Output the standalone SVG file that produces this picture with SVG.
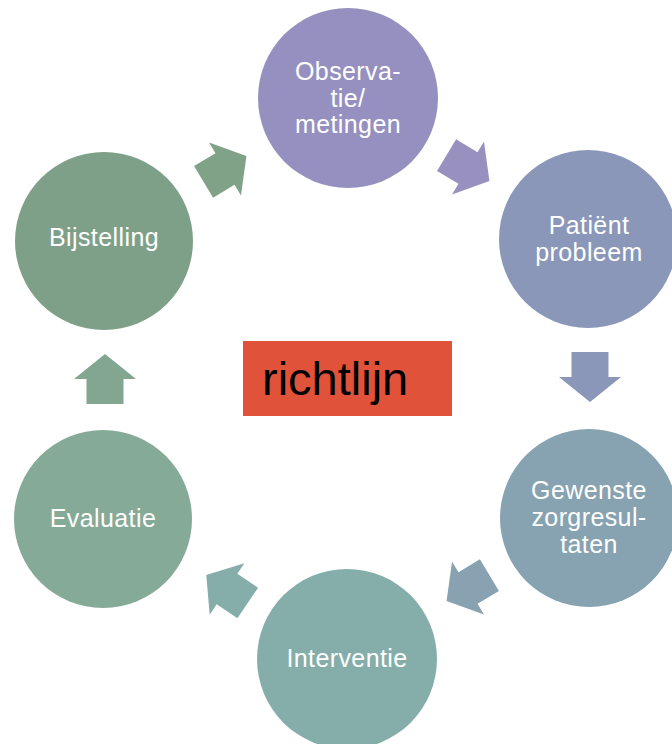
<svg xmlns="http://www.w3.org/2000/svg" xmlns:xlink="http://www.w3.org/1999/xlink" width="672" height="744" viewBox="0 0 672 744">
<style>
.lbl{font-family:"Liberation Sans",Arial,sans-serif;font-size:25px;letter-spacing:0.4px;fill:#ffffff;text-anchor:middle}
.main{font-family:"Liberation Sans",Arial,sans-serif;font-size:47px;fill:#000000}
</style>
<defs>
<polygon id="arr" points="25,0 0,-31 0,-18.5 -25,-18.5 -25,18.5 0,18.5 0,31"/>
</defs>
<rect width="672" height="744" fill="#ffffff"/>
<g id="connectors">
<use xlink:href="#arr" fill="#80A388" transform="translate(225,169) rotate(-31)"/>
<use xlink:href="#arr" fill="#9891C0" transform="translate(468,168) rotate(31)"/>
<use xlink:href="#arr" fill="#8A97B8" transform="translate(590,377) rotate(90)"/>
<use xlink:href="#arr" fill="#88A2B1" transform="translate(468,588) rotate(149)"/>
<use xlink:href="#arr" fill="#85AEAB" transform="translate(227,589) rotate(214)"/>
<use xlink:href="#arr" fill="#82A690" transform="translate(105,379) rotate(-90)"/>
</g>
<g id="observatie">
<circle cx="348" cy="98" r="90" fill="#9590BF"/>
<text class="lbl" x="348" y="80">Observa-</text>
<text class="lbl" x="348" y="107">tie/</text>
<text class="lbl" x="348" y="133">metingen</text>
</g>
<g id="patient">
<circle cx="588" cy="239" r="89" fill="#8A97B8"/>
<text class="lbl" x="589" y="234">Patiënt</text>
<text class="lbl" x="589" y="261">probleem</text>
</g>
<g id="gewenste">
<circle cx="589" cy="518" r="89" fill="#87A2B1"/>
<text class="lbl" x="589" y="499">Gewenste</text>
<text class="lbl" x="589" y="526">zorgresul-</text>
<text class="lbl" x="589" y="553">taten</text>
</g>
<g id="interventie">
<circle cx="347" cy="659" r="90" fill="#85AEAB"/>
<text class="lbl" x="347" y="667">Interventie</text>
</g>
<g id="evaluatie">
<circle cx="103" cy="519" r="89" fill="#85AA97"/>
<text class="lbl" x="103" y="527">Evaluatie</text>
</g>
<g id="bijstelling">
<circle cx="104" cy="241" r="89" fill="#7FA088"/>
<text class="lbl" x="104" y="246">Bijstelling</text>
</g>
<g id="richtlijn">
<rect x="243" y="341" width="209" height="75" fill="#E0533A"/>
<text class="main" x="262" y="395">richtlijn</text>
</g>
</svg>
